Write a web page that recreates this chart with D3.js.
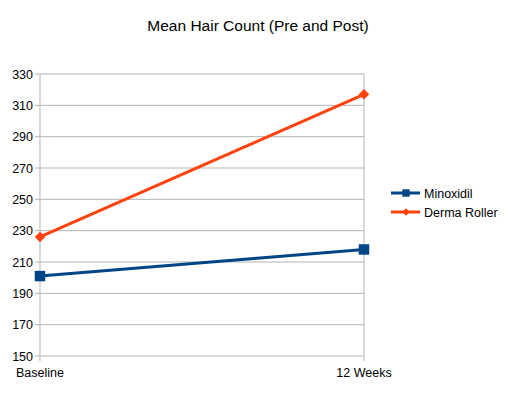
<html>
<head>
<style>
  body { margin: 0; background: #fff; }
  text { font-family: "Liberation Sans", Arial, sans-serif; }
</style>
</head>
<body>
<svg id="chart" width="510" height="393"></svg>
<script src="https://cdn.jsdelivr.net/npm/d3@7/dist/d3.min.js"></script>
<script>
const categories = ["Baseline", "12 Weeks"]
const minoxidil = [201, 218]
const dermaRoller = [226, 317]
const yTicks = [150, 170, 190, 210, 230, 250, 270, 290, 310, 330]

const series = [
  { name: "Minoxidil", values: minoxidil, color: "#004586", size: 110, rotate: 0 },
  { name: "Derma Roller", values: dermaRoller, color: "#ff420e", size: 55, rotate: 45 }
]

const svg = d3.select("#chart")
const plotLeft = 40, plotRight = 364, plotTop = 74, plotBottom = 356

const x = d3.scalePoint().domain(categories).range([plotLeft, plotRight])
const y = d3.scaleLinear().domain([150, 330]).range([plotBottom, plotTop])

// gridlines
svg.append("g").selectAll("line")
  .data(yTicks)
  .enter().append("line")
  .attr("x1", plotLeft - 5).attr("x2", plotRight)
  .attr("y1", d => y(d)).attr("y2", d => y(d))
  .attr("stroke", "#b3b3b3").attr("stroke-width", 1)

// vertical lines at categories
svg.append("g").selectAll("line")
  .data(categories)
  .enter().append("line")
  .attr("x1", d => x(d)).attr("x2", d => x(d))
  .attr("y1", plotTop).attr("y2", plotBottom + 5)
  .attr("stroke", "#b3b3b3").attr("stroke-width", 1)

// y labels
svg.append("g").selectAll("text")
  .data(yTicks)
  .enter().append("text")
  .attr("x", plotLeft - 7).attr("y", d => y(d) + 4.5)
  .attr("text-anchor", "end")
  .attr("font-size", 12.5)
  .text(d => d)

// x labels
svg.append("g").selectAll("text")
  .data(categories)
  .enter().append("text")
  .attr("x", d => x(d)).attr("y", plotBottom + 21)
  .attr("text-anchor", "middle")
  .attr("font-size", 12.5)
  .text(d => d)

const line = d3.line().x((d, i) => x(categories[i])).y(d => y(d))

series.forEach(s => {
  svg.append("path")
    .attr("d", line(s.values))
    .attr("fill", "none")
    .attr("stroke", s.color)
    .attr("stroke-width", 3)
  svg.append("g").selectAll("path")
    .data(s.values)
    .enter().append("path")
    .attr("d", d3.symbol().type(d3.symbolSquare).size(s.size))
    .attr("transform", (d, i) => `translate(${x(categories[i])},${y(d)}) rotate(${s.rotate})`)
    .attr("fill", s.color)
})

// legend
const legend = svg.append("g").selectAll("g")
  .data(series)
  .enter().append("g")
  .attr("transform", (d, i) => `translate(391,${193 + i * 19})`)

legend.append("line")
  .attr("x1", 0).attr("x2", 29)
  .attr("stroke", d => d.color).attr("stroke-width", 3)
legend.append("path")
  .attr("d", d => d3.symbol().type(d3.symbolSquare).size(d.size * 0.5)())
  .attr("transform", d => `translate(15,0) rotate(${d.rotate})`)
  .attr("fill", d => d.color)
legend.append("text")
  .attr("x", 33).attr("y", 4.5)
  .attr("font-size", 12.5)
  .text(d => d.name)

svg.append("text")
  .attr("x", 258).attr("y", 31)
  .attr("text-anchor", "middle")
  .attr("font-size", 15.5)
  .text("Mean Hair Count (Pre and Post)")
</script>
</body>
</html>
